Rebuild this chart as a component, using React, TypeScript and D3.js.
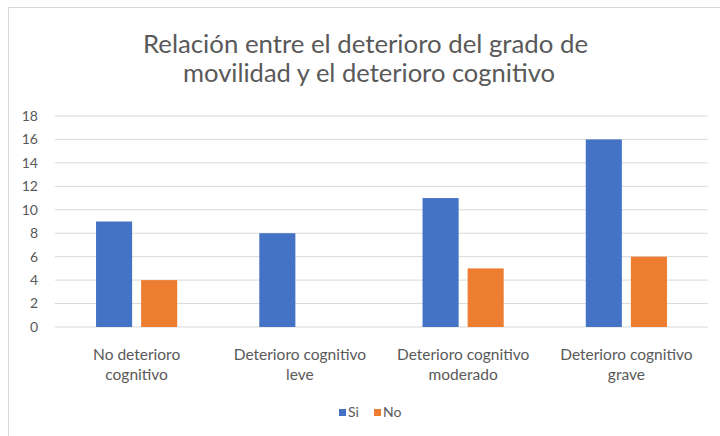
import React from "react";
import { scaleBand, scaleLinear } from "d3";

const categories = [
  ["No deterioro", "cognitivo"],
  ["Deterioro cognitivo", "leve"],
  ["Deterioro cognitivo", "moderado"],
  ["Deterioro cognitivo", "grave"],
];
const seriesNames = ["Si", "No"];
const siValues = [9, 8, 11, 16];
const noValues = [4, 0, 5, 6];
const yTicks = [0, 2, 4, 6, 8, 10, 12, 14, 16, 18];
const colors = ["#4472c4", "#ed7d31"];

const W = 720;
const H = 436;
const FONT = "Lato, 'Open Sans', sans-serif";
const GREY = "#595959";

export default function App() {
  const margin = { left: 55, right: 12, top: 116, bottom: 109 };
  const plotW = W - margin.left - margin.right;
  const plotH = H - margin.top - margin.bottom;

  const x0 = scaleBand<number>()
    .domain(categories.map((_, i) => i))
    .range([0, plotW]);
  const x1 = scaleBand<string>()
    .domain(seriesNames)
    .range([0, x0.bandwidth()])
    .paddingInner(0.2)
    .paddingOuter(0.91);
  const y = scaleLinear().domain([0, 18]).range([plotH, 0]);

  const series = [siValues, noValues];

  return (
    <svg
      width={W}
      height={H}
      style={{ position: "absolute", left: 0, top: 0, display: "block", background: "#fff" }}
      fontFamily={FONT}
    >
      <rect x={8.5} y={7.5} width={W} height={H} fill="#fff" stroke="#d9d9d9" />
      <text x={365.5} y={53} textAnchor="middle" fontSize={25} fill={GREY}
        textLength={445} lengthAdjust="spacingAndGlyphs">
        Relación entre el deterioro del grado de
      </text>
      <text x={369} y={82} textAnchor="middle" fontSize={25} fill={GREY}
        textLength={372} lengthAdjust="spacingAndGlyphs">
        movilidad  y el deterioro cognitivo
      </text>

      <g transform={`translate(${margin.left},${margin.top})`}>
        {yTicks.map((t) => (
          <g key={t} transform={`translate(0,${y(t)})`}>
            <line x1={0} x2={plotW} stroke="#d9d9d9" strokeWidth={1} />
            <text x={-17} dy="0.35em" textAnchor="end" fontSize={14} fill={GREY}>
              {t}
            </text>
          </g>
        ))}
        {categories.map((c, i) => (
          <g key={i} transform={`translate(${x0(i)},0)`}>
            {series.map((vals, s) =>
              vals[i] > 0 ? (
                <rect
                  key={s}
                  x={x1(seriesNames[s])}
                  y={y(vals[i])}
                  width={x1.bandwidth()}
                  height={plotH - y(vals[i])}
                  fill={colors[s]}
                />
              ) : null
            )}
            {c.map((line, k) => (
              <text
                key={k}
                x={x0.bandwidth() / 2}
                y={plotH + 33 + k * 20}
                textAnchor="middle"
                fontSize={15.5}
                fill={GREY}
              >
                {line}
              </text>
            ))}
          </g>
        ))}
      </g>

      <g transform="translate(339,409)">
        {seriesNames.map((s, i) => (
          <g key={s} transform={`translate(${i * 35},0)`}>
            <rect x={0} y={0} width={7} height={7} fill={colors[i]} />
            <text x={9} y={8} fontSize={14} fill={GREY}>
              {s}
            </text>
          </g>
        ))}
      </g>
    </svg>
  );
}
